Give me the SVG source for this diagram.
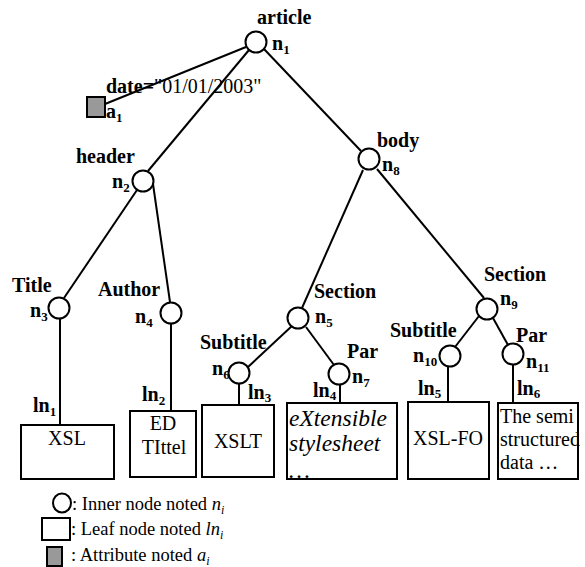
<svg xmlns="http://www.w3.org/2000/svg" width="585" height="567" viewBox="0 0 585 567">
<style>
text{font-family:"Liberation Serif","Times New Roman",serif;fill:#000}
.b{font-weight:bold;font-size:20px}
.r{font-size:20px}
.i{font-style:italic;font-size:23.5px}
.lg{font-size:18.5px}
.s{font-size:13px}
.edge{stroke:#000;stroke-width:2;fill:none}
.inner{fill:#fff;stroke:#000;stroke-width:2}
.leaf{fill:#fff;stroke:#000;stroke-width:2}
.frame{fill:none;stroke:#000;stroke-width:2}
.attr{fill:#999;stroke:#000;stroke-width:2}
</style>
<g id="connectors" class="edge">
<line x1="105" y1="104" x2="246" y2="47"/>
<line x1="249" y1="50" x2="148" y2="171"/>
<line x1="137" y1="190" x2="64" y2="298"/>
<line x1="153" y1="184" x2="170" y2="302"/>
<line x1="264" y1="49" x2="361" y2="151"/>
<line x1="363" y1="170" x2="302" y2="308"/>
<line x1="377" y1="169" x2="484" y2="298"/>
<line x1="293" y1="325" x2="248" y2="367"/>
<line x1="306" y1="327" x2="334" y2="365"/>
<line x1="479" y1="316" x2="455" y2="347"/>
<line x1="493" y1="318" x2="508" y2="345"/>
<line x1="60" y1="318" x2="60" y2="425"/>
<line x1="171" y1="323" x2="171" y2="411"/>
<line x1="239" y1="383" x2="239" y2="405"/>
<line x1="340" y1="384" x2="340" y2="403"/>
<line x1="448" y1="366" x2="448" y2="402"/>
<line x1="513" y1="364" x2="513" y2="403"/>
</g>
<g id="n1"><circle class="inner" cx="256" cy="42" r="10.5"/><text class="b" x="257" y="24">article</text><text class="b" x="272" y="50">n<tspan class="s" dy="4">1</tspan></text></g>
<g id="a1"><rect class="attr" x="87" y="97" width="18" height="20"/><text x="106" y="93"><tspan class="b">date=</tspan><tspan class="r">"01/01/2003"</tspan></text><text class="b" x="106" y="118">a<tspan class="s" dy="4">1</tspan></text></g>
<g id="n2"><circle class="inner" cx="143" cy="181" r="10.5"/><text class="b" x="76" y="163">header</text><text class="b" x="112" y="188">n<tspan class="s" dy="4">2</tspan></text></g>
<g id="n8"><circle class="inner" cx="369" cy="159" r="10.5"/><text class="b" x="377" y="147">body</text><text class="b" x="382" y="171">n<tspan class="s" dy="4">8</tspan></text></g>
<g id="n3"><circle class="inner" cx="59" cy="308" r="10.5"/><text class="b" x="12" y="292">Title</text><text class="b" x="30" y="317">n<tspan class="s" dy="4">3</tspan></text></g>
<g id="n4"><circle class="inner" cx="171" cy="313" r="10.5"/><text class="b" x="98" y="296">Author</text><text class="b" x="135" y="323">n<tspan class="s" dy="4">4</tspan></text></g>
<g id="n5"><circle class="inner" cx="298" cy="318" r="10.5"/><text class="b" x="314" y="298">Section</text><text class="b" x="315" y="323">n<tspan class="s" dy="4">5</tspan></text></g>
<g id="n6"><circle class="inner" cx="239" cy="373" r="10.5"/><text class="b" x="200" y="349">Subtitle</text><text class="b" x="212" y="375">n<tspan class="s" dy="4">6</tspan></text></g>
<g id="n7"><circle class="inner" cx="339" cy="374" r="10.5"/><text class="b" x="347" y="358">Par</text><text class="b" x="352" y="383">n<tspan class="s" dy="4">7</tspan></text></g>
<g id="n9"><circle class="inner" cx="487" cy="309" r="10.5"/><text class="b" x="484" y="281">Section</text><text class="b" x="500" y="305">n<tspan class="s" dy="4">9</tspan></text></g>
<g id="n10"><circle class="inner" cx="450" cy="356" r="10.5"/><text class="b" x="390" y="337">Subtitle</text><text class="b" x="413" y="362">n<tspan class="s" dy="4">10</tspan></text></g>
<g id="n11"><circle class="inner" cx="513" cy="354" r="10.5"/><text class="b" x="516" y="342">Par</text><text class="b" x="526" y="368">n<tspan class="s" dy="4">11</tspan></text></g>
<g id="ln1"><rect class="leaf" x="21" y="425" width="93" height="54"/><text class="b" x="33" y="412">ln<tspan class="s" dy="4">1</tspan></text><text class="r" x="67" y="445" text-anchor="middle">XSL</text></g>
<g id="ln2"><rect class="leaf" x="130" y="411" width="66" height="66"/><text class="b" x="142" y="401">ln<tspan class="s" dy="4">2</tspan></text><text class="r" x="163" y="430" text-anchor="middle">ED</text><text class="r" x="164" y="454" text-anchor="middle">TIttel</text></g>
<g id="ln3"><rect class="leaf" x="202" y="405" width="72" height="72"/><text class="b" x="248" y="399">ln<tspan class="s" dy="3">3</tspan></text><text class="r" x="238" y="448" text-anchor="middle">XSLT</text></g>
<g id="ln4"><text class="i" x="289" y="426">eXtensible</text><text class="i" x="289" y="451">stylesheet</text><text class="i" x="289" y="478">…</text><rect class="frame" x="287" y="403" width="110" height="76"/><text class="b" x="313" y="397">ln<tspan class="s" dy="3">4</tspan></text></g>
<g id="ln5"><rect class="leaf" x="408" y="402" width="81" height="77"/><text class="b" x="418" y="395">ln<tspan class="s" dy="3">5</tspan></text><text class="r" x="448" y="445" text-anchor="middle">XSL-FO</text></g>
<g id="ln6"><rect class="leaf" x="498" y="403" width="80" height="76"/><text class="b" x="517" y="395">ln<tspan class="s" dy="3">6</tspan></text><text class="r" x="500" y="423">The semi</text><text class="r" x="500" y="446">structured</text><text class="r" x="500" y="469">data …</text></g>
<g id="legend">
<ellipse class="inner" cx="62" cy="503" rx="9" ry="9.5"/>
<text class="lg" x="72" y="510">: Inner node noted <tspan font-style="italic">n</tspan><tspan font-style="italic" font-size="12" dy="4">i</tspan></text>
<rect class="leaf" x="42" y="518" width="28" height="22"/>
<text class="lg" x="71" y="535">: Leaf node noted <tspan font-style="italic">ln</tspan><tspan font-style="italic" font-size="12" dy="4">i</tspan></text>
<rect class="attr" x="47" y="547" width="15" height="19"/>
<text class="lg" x="71" y="561">: Attribute noted <tspan font-style="italic">a</tspan><tspan font-style="italic" font-size="12" dy="4">i</tspan></text>
</g>
</svg>
